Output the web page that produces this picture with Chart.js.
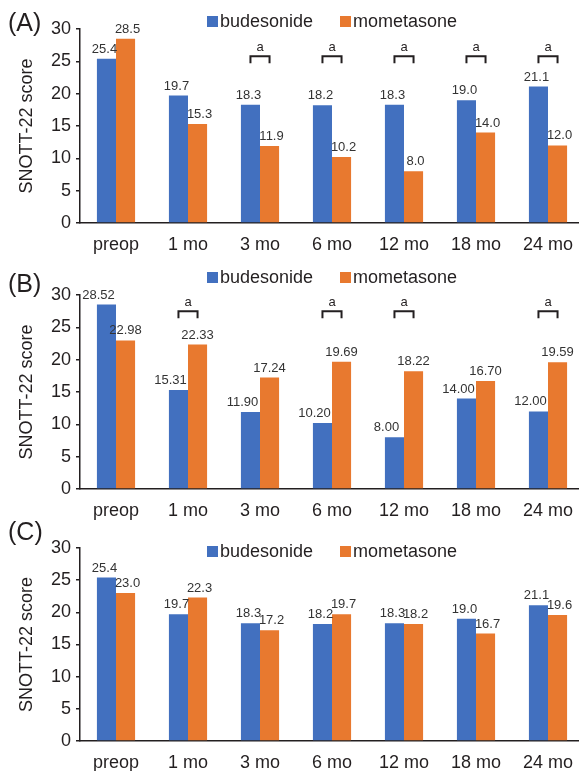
<!DOCTYPE html>
<html>
<head>
<meta charset="utf-8">
<script src="https://cdn.jsdelivr.net/npm/chart.js@4/dist/chart.umd.min.js"></script>
<style>
    html, body { margin: 0; padding: 0; background: #fff; overflow: hidden; width: 579px; height: 771px; }
    .panel { position: absolute; left: 0; top: 0; width: 590px; height: 771px; }
</style>
</head>
<body>
<canvas id="chartA" class="panel" width="590" height="771"></canvas>
<canvas id="chartB" class="panel" width="590" height="771"></canvas>
<canvas id="chartC" class="panel" width="590" height="771"></canvas>
<script>
const categories = ['preop', '1 mo', '3 mo', '6 mo', '12 mo', '18 mo', '24 mo'];
const seriesNames = ['budesonide', 'mometasone'];
const yTicks = [0, 5, 10, 15, 20, 25, 30];

// (A)
const budesonideA = [25.4, 19.7, 18.3, 18.2, 18.3, 19.0, 21.1];
const mometasoneA = [28.5, 15.3, 11.9, 10.2, 8.0, 14.0, 12.0];
const signifA = [false, false, true, true, true, true, true];
const bracketLevelA = 25.8;

// (B)
const budesonideB = [28.52, 15.31, 11.90, 10.20, 8.00, 14.00, 12.00];
const mometasoneB = [22.98, 22.33, 17.24, 19.69, 18.22, 16.70, 19.59];
const signifB = [false, true, false, true, true, false, true];
const bracketLevelB = 27.5;

// (C)
const budesonideC = [25.4, 19.7, 18.3, 18.2, 18.3, 19.0, 21.1];
const mometasoneC = [23.0, 22.3, 17.2, 19.7, 18.2, 16.7, 19.6];
const signifC = [false, false, false, false, false, false, false];
const bracketLevelC = 0;

const BLUE = '#4270BF';
const ORANGE = '#E8792F';
const INK = '#231f20';
const FONT = "'Liberation Sans', Arial, sans-serif";

// draws panel letter, legend, value labels and the "a" brackets
const decorPlugin = {
    id: 'decor',
    afterDatasetsDraw(chart, args, opts) {
        const ctx = chart.ctx;
        const yScale = chart.scales.y;
        ctx.save();

        // panel letter
        ctx.fillStyle = INK;
        ctx.font = `25px ${FONT}`;
        ctx.textAlign = 'left';
        ctx.textBaseline = 'middle';
        ctx.fillText(opts.letter, 8, opts.letterY);

        // legend
        ctx.font = `18px ${FONT}`;
        chart.data.datasets.forEach((ds, i) => {
            const x = opts.legendX[i];
            ctx.fillStyle = ds.backgroundColor;
            ctx.fillRect(x, opts.legendY - 5, 11, 11);
            ctx.fillStyle = INK;
            ctx.fillText(ds.label, x + 13, opts.legendY + 1);
        });

        // value labels
        ctx.font = `13px ${FONT}`;
        ctx.textAlign = 'center';
        ctx.textBaseline = 'bottom';
        ctx.fillStyle = '#333';
        chart.data.datasets.forEach((ds, i) => {
            const meta = chart.getDatasetMeta(i);
            meta.data.forEach((bar, j) => {
                const txt = ds.data[j].toFixed(opts.decimals);
                ctx.fillText(txt, bar.x + opts.labelDx[i], bar.y - 3);
            });
        });

        // significance brackets
        const m0 = chart.getDatasetMeta(0);
        const m1 = chart.getDatasetMeta(1);
        ctx.strokeStyle = INK;
        ctx.lineWidth = 2;
        ctx.textBaseline = 'middle';
        ctx.fillStyle = INK;
        opts.signif.forEach((s, j) => {
            if (!s) return;
            const x0 = m0.data[j].x;
            const x1 = m1.data[j].x;
            const y = yScale.getPixelForValue(opts.bracketLevel);
            ctx.beginPath();
            ctx.moveTo(x0, y + 7);
            ctx.lineTo(x0, y);
            ctx.lineTo(x1, y);
            ctx.lineTo(x1, y + 7);
            ctx.stroke();
            ctx.fillText('a', (x0 + x1) / 2, y - 9);
        });

        ctx.restore();
    }
};

function makeChart(id, bud, mom, top, bottom, decor) {
    const ctx = document.getElementById(id).getContext('2d');
    const xHeight = Math.min(45, 771 - bottom);
    return new Chart(ctx, {
        type: 'bar',
        data: {
            labels: categories,
            datasets: [
                { label: seriesNames[0], data: bud, backgroundColor: BLUE },
                { label: seriesNames[1], data: mom, backgroundColor: ORANGE }
            ]
        },
        options: {
            responsive: false,
            animation: false,
            events: [],
            layout: { padding: { top: top, bottom: 771 - bottom - xHeight, left: 0, right: 6 } },
            datasets: {
                bar: { categoryPercentage: 0.53, barPercentage: 1.0 }
            },
            plugins: {
                legend: { display: false },
                tooltip: { enabled: false },
                decor: decor
            },
            scales: {
                x: {
                    afterFit: s => { s.height = xHeight; },
                    grid: { display: false },
                    border: { display: true, color: INK, width: 1.5 },
                    ticks: { color: INK, padding: 3, font: { size: 18, family: FONT } }
                },
                y: {
                    min: 0,
                    max: 30,
                    afterFit: s => { s.width = 80; },
                    afterBuildTicks: s => { s.ticks = yTicks.map(v => ({ value: v })); },
                    grid: { drawOnChartArea: false, drawTicks: true, tickLength: 4, color: INK, lineWidth: 1.5 },
                    border: { display: true, color: INK, width: 1.5 },
                    ticks: { color: INK, padding: 5, font: { size: 18, family: FONT } },
                    title: {
                        display: true,
                        text: 'SNOTT-22 score',
                        color: INK,
                        padding: { top: 16 },
                        font: { size: 18, family: FONT }
                    }
                }
            }
        },
        plugins: [decorPlugin]
    });
}

makeChart('chartA', budesonideA, mometasoneA, 29, 223, {
    letter: '(A)', letterY: 24, legendX: [207, 340], legendY: 21,
    decimals: 1, labelDx: [-2, 2], signif: signifA, bracketLevel: bracketLevelA
});
makeChart('chartB', budesonideB, mometasoneB, 295, 489, {
    letter: '(B)', letterY: 285, legendX: [207, 340], legendY: 277,
    decimals: 2, labelDx: [-8, 0], signif: signifB, bracketLevel: bracketLevelB
});
makeChart('chartC', budesonideC, mometasoneC, 548, 741, {
    letter: '(C)', letterY: 533, legendX: [207, 340], legendY: 551,
    decimals: 1, labelDx: [-2, 2], signif: signifC, bracketLevel: bracketLevelC
});
</script>
</body>
</html>
